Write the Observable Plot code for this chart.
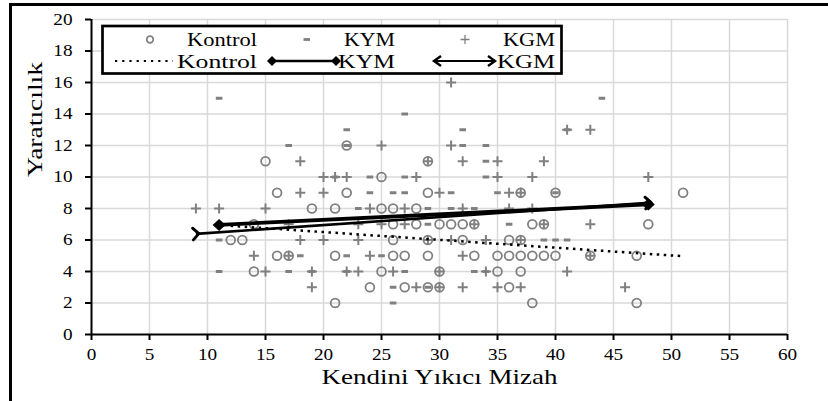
<!DOCTYPE html>
<html><head><meta charset="utf-8">
<script src="https://cdn.jsdelivr.net/npm/d3@7"></script>
<script src="https://cdn.jsdelivr.net/npm/@observablehq/plot@0.6"></script>
<style>
body{margin:0;background:#fff;}
#wrap{position:relative;width:828px;height:401px;overflow:hidden;font-family:"Liberation Serif","Times New Roman",serif;background:#fff;}
#wrap svg{position:absolute;left:0;top:0;}
.bar{position:absolute;background:#000;}
</style></head><body><div id="wrap"></div>
<script>
// ---- data ----
const xTicks = [0,5,10,15,20,25,30,35,40,45,50,55,60];
const yTicks = [0,2,4,6,8,10,12,14,16,18,20];
const xTitle = "Kendini Yıkıcı Mizah";
const yTitle = "Yaratıcılık";
const seriesNames = ["Kontrol","KYM","KGM"];

const kontrolX = [15,16,22,25,22,29,29,40,37,51, 19,21,25,26,28, 14,26,28,30,31,32,33,38,39,48, 12,13,26,29,32,36,37, 16,17,21,26,27,29,33,35,36,37,38,39,40,43,47, 14,25,30,35,37, 24,27,29,30,36, 21,38,47];
const kontrolY = [11,9,12,10,9,11,9,9,9,9, 8,8,8,8,8, 7,7,7,7,7,7,7,7,7,7, 6,6,6,6,6,6,6, 5,5,5,5,5,5,5,5,5,5,5,5,5,5,5, 4,4,4,4,4, 3,3,3,3,3, 2,2,2];

const kymX = [11,44,27,22,32,41, 17,22,32,34, 34, 21,24,27,34, 24,26,27,31,35,40, 23,29,31,33, 29,36, 11,39,40,41, 18,22,25, 11,17,19,22,27,33,34, 26,29, 26];
const kymY = [15,15,14,13,13,13, 12,12,12,12, 11, 10,10,10,10, 9,9,9,9,9,9, 8,8,8,8, 7,7, 6,6,6,6, 5,5,5, 4,4,4,4,4,4,4, 3,3, 2];

const kgmX = [31,41,43,25,31, 18,29,32,35,39, 20,21,22,28,35,38,48, 18,20,30,36,37, 9,11,15,24,27,32,36,38, 17,23,25,27,33,39,43, 18,20,23,29,31,34,37, 14,17,24,32,43, 15,19,22,23,26,30,34,41, 19,28,30,32,35,37,46];
const kgmY = [16,13,13,12,12, 11,11,11,11,11, 10,10,10,10,10,10,10, 9,9,9,9,9, 8,8,8,8,8,8,8,8, 7,7,7,7,7,7,7, 6,6,6,6,6,6,6, 5,5,5,5,5, 4,4,4,4,4,4,4,4, 3,3,3,3,3,3,3];

// linear trend lines (start / end)
const trendX1 = [12, 11, 9];
const trendY1 = [6.9, 6.96, 6.39];
const trendX2 = [51, 48, 48];
const trendY2 = [4.97, 8.26, 8.36];

// ---- build ----
const gray = "#808080";
const pts = (xs, ys, s) => xs.map((x, i) => ({x, y: ys[i], s}));
const kontrol = pts(kontrolX, kontrolY, "Kontrol");
const kym = pts(kymX, kymY, "KYM");
const kgm = pts(kgmX, kgmY, "KGM");
const trends = seriesNames.map((s, i) => ({s, x1: trendX1[i], y1: trendY1[i], x2: trendX2[i], y2: trendY2[i]}));
const tr = s => trends.filter(d => d.s === s);
const kymEnds = tr("KYM").flatMap(d => [{x: d.x1, y: d.y1}, {x: d.x2, y: d.y2}]);

const plusSym = {draw(c){c.moveTo(-5,0);c.lineTo(5,0);c.moveTo(0,-5);c.lineTo(0,5);}};
const dashSym = {draw(c){c.moveTo(-3.3,-1.5);c.lineTo(3.3,-1.5);c.lineTo(3.3,1.5);c.lineTo(-3.3,1.5);c.closePath();}};
const diamondSym = {draw(c){c.moveTo(0,-6);c.lineTo(6.5,0);c.lineTo(0,6);c.lineTo(-6.5,0);c.closePath();}};

const grid = {stroke: "#d9d9d9", strokeOpacity: 1, strokeWidth: 1.5};
const chart = Plot.plot({
  width: 828, height: 401,
  marginLeft: 91, marginRight: 41, marginTop: 19, marginBottom: 67,
  style: {fontFamily: '"Liberation Serif", "Times New Roman", serif', fontSize: "16px", color: "#000", background: "transparent"},
  x: {domain: [0, 60]},
  y: {domain: [0, 20]},
  marks: [
    Plot.gridX(xTicks.filter(v => v > 0), grid),
    Plot.gridY(yTicks.filter(v => v > 0), grid),
    Plot.dot(kontrol, {x: "x", y: "y", r: 4.4, stroke: gray, strokeWidth: 1.8, fill: "none"}),
    Plot.dot(kym, {x: "x", y: "y", symbol: dashSym, fill: gray, stroke: "none"}),
    Plot.dot(kgm, {x: "x", y: "y", symbol: plusSym, stroke: gray, strokeWidth: 2, fill: "none"}),
    Plot.link(tr("Kontrol"), {x1: "x1", y1: "y1", x2: "x2", y2: "y2", stroke: "#000", strokeWidth: 2.5, strokeDasharray: "2.5,4.5"}),
    Plot.link(tr("KYM"), {x1: "x1", y1: "y1", x2: "x2", y2: "y2", stroke: "#000", strokeWidth: 3.8}),
    Plot.dot(kymEnds, {x: "x", y: "y", symbol: diamondSym, fill: "#000", stroke: "none"}),
    Plot.link(tr("KGM"), {x1: "x1", y1: "y1", x2: "x2", y2: "y2", stroke: "#000", strokeWidth: 2.6, markerStart: "arrow", markerEnd: "arrow"}),
    Plot.ruleY([0], {stroke: "#000", strokeWidth: 2}),
    Plot.ruleX([0], {stroke: "#000", strokeWidth: 2}),
    Plot.axisX({ticks: xTicks, tickSize: 6, tickPadding: 8, strokeWidth: 2, label: null}),
    Plot.axisY({ticks: yTicks, tickSize: 6, tickPadding: 13, strokeWidth: 2, label: null}),
    Plot.text([xTitle], {frameAnchor: "bottom", dy: 49, fontSize: 21}),
    Plot.text([yTitle], {frameAnchor: "left", dx: -56, rotate: -90, fontSize: 21})
  ]
});
const wrap = document.getElementById("wrap");
wrap.appendChild(chart);

const svgSel = d3.select(chart.tagName.toLowerCase() === "svg" ? chart : chart.querySelector("svg"));
// slightly larger arrow heads on the KGM trend line
svgSel.selectAll("marker").attr("markerWidth", 7.5).attr("markerHeight", 7.5);
// stretch text horizontally like the reference rendering
svgSel.selectAll('g[aria-label$="tick label"] text').each(function(){
  const L = this.getComputedTextLength();
  this.setAttribute("textLength", (L * 1.2).toFixed(1));
  this.setAttribute("lengthAdjust", "spacingAndGlyphs");
});
const titleLen = {[xTitle]: 236, [yTitle]: 115};
svgSel.selectAll('g[aria-label="text"] text').each(function(){
  const t = this.textContent;
  if (titleLen[t]) { this.setAttribute("textLength", titleLen[t]); this.setAttribute("lengthAdjust", "spacingAndGlyphs"); }
});

// ---- legend ----
const lg = d3.select(wrap).append("svg").attr("width", 828).attr("height", 401)
  .style("font-family", '"Liberation Serif", "Times New Roman", serif').style("font-size", "18px");
lg.append("rect").attr("x", 102.5).attr("y", 26).attr("width", 459).attr("height", 47.5)
  .attr("fill", "#fff").attr("stroke", "#000").attr("stroke-width", 2.7);
const r1 = 39.5, b1 = 46, r2 = 61, b2 = 67.5;
lg.append("circle").attr("cx", 150).attr("cy", r1).attr("r", 3.3).attr("fill", "none").attr("stroke", gray).attr("stroke-width", 1.7);
lg.append("rect").attr("x", 303.5).attr("y", r1 - 1.4).attr("width", 6.5).attr("height", 2.8).attr("fill", gray);
lg.append("path").attr("d", `M460.5,${r1}h9M465,${r1-4.5}v9`).attr("stroke", gray).attr("stroke-width", 1.3);
const txt = (x, y, s, len) => lg.append("text").attr("x", x).attr("y", y).text(s)
  .attr("textLength", len).attr("lengthAdjust", "spacingAndGlyphs");
txt(187, b1, seriesNames[0], 70);
txt(344, b1, seriesNames[1], 51);
txt(503, b1, seriesNames[2], 52);
lg.append("line").attr("x1", 115).attr("x2", 173).attr("y1", r2).attr("y2", r2)
  .attr("stroke", "#000").attr("stroke-width", 2.2).attr("stroke-dasharray", "2.2,5");
txt(177, b2, seriesNames[0], 80);
lg.append("line").attr("x1", 272).attr("x2", 336).attr("y1", r2).attr("y2", r2).attr("stroke", "#000").attr("stroke-width", 2.5);
[272, 336].forEach(cx => lg.append("path").attr("d", `M${cx},${r2-5}L${cx+5},${r2}L${cx},${r2+5}L${cx-5},${r2}Z`).attr("fill", "#000"));
txt(338, b2, seriesNames[1], 57);
lg.append("line").attr("x1", 435).attr("x2", 494).attr("y1", r2).attr("y2", r2).attr("stroke", "#000").attr("stroke-width", 2.2);
lg.append("path").attr("d", `M441,${r2-5}L434,${r2}L441,${r2+5}M488,${r2-5}L495,${r2}L488,${r2+5}`)
  .attr("fill", "none").attr("stroke", "#000").attr("stroke-width", 2.4);
txt(497, b2, seriesNames[2], 58);

// frame edges seen in the reference
d3.select(wrap).append("div").attr("class", "bar").style("left", "9px").style("top", "3px").style("width", "819px").style("height", "3px");
d3.select(wrap).append("div").attr("class", "bar").style("left", "9px").style("top", "3px").style("width", "3px").style("height", "398px");
</script></body></html>
